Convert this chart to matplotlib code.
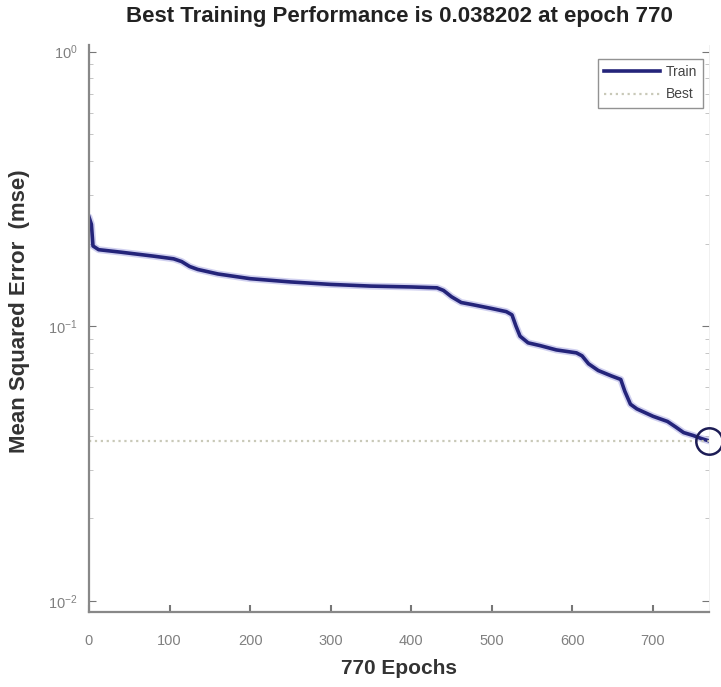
import matplotlib
matplotlib.use('Agg')
import matplotlib.pyplot as plt
from matplotlib.ticker import LogLocator, NullFormatter
import numpy as np

# Training record (epoch, mse)
epochs = [0, 3, 5, 12, 40, 80, 105, 115, 125, 135, 160, 200, 250, 300, 350,
          400, 432, 440, 450, 462, 475, 500, 518, 525, 530, 535, 545, 560,
          580, 605, 612, 620, 632, 648, 660, 665, 672, 680, 700, 718, 728,
          738, 750, 760, 770]
train_mse = [0.250, 0.235, 0.196, 0.190, 0.186, 0.180, 0.176, 0.172, 0.165,
             0.161, 0.155, 0.149, 0.145, 0.142, 0.140, 0.139, 0.138, 0.135,
             0.128, 0.122, 0.120, 0.116, 0.113, 0.110, 0.100, 0.092, 0.087,
             0.085, 0.082, 0.080, 0.078, 0.073, 0.069, 0.066, 0.064, 0.058,
             0.052, 0.050, 0.047, 0.045, 0.043, 0.041, 0.040, 0.039, 0.038202]
best_epoch = 770
best_perf = 0.038202

plt.rcParams['font.family'] = ['Liberation Sans', 'DejaVu Sans']
plt.rcParams['mathtext.fontset'] = 'custom'
plt.rcParams['mathtext.rm'] = 'Liberation Sans'

fig = plt.figure(figsize=(7.21, 6.87), dpi=100)
ax = fig.add_axes([0.1234, 0.109, 0.8605, 0.826])

ax.plot(epochs, train_mse, color='#6666cc', lw=5, alpha=0.3, solid_capstyle='round')
ax.plot(epochs, train_mse, color='#24247a', lw=2.6, label='Train')
ax.axhline(best_perf, color='#c9c9b8', lw=1.6, ls=':', label='Best')
ax.plot([best_epoch], [best_perf], 'o', ms=19, mfc='none', mec='#1c1c55',
        mew=1.8, clip_on=False, zorder=5)

ax.set_yscale('log')
ax.set_xlim(0, 770)
ax.set_ylim(0.0091, 1.06)
ax.set_xticks(np.arange(0, 701, 100))
ax.yaxis.set_major_locator(LogLocator(base=10, numticks=5))
ax.yaxis.set_minor_locator(LogLocator(base=10, subs=np.arange(2, 10), numticks=20))
ax.yaxis.set_minor_formatter(NullFormatter())
ax.tick_params(axis='both', which='both', direction='in', colors='#777777',
               labelcolor='#808080', labelsize=10.5)
ax.tick_params(axis='y', which='both', right=True)
ax.tick_params(axis='x', pad=16, length=5, width=1.5)
ax.tick_params(axis='y', which='major', pad=8, length=5)
ax.tick_params(axis='y', which='minor', length=3, color='#bbbbbb')

for side in ['left', 'bottom']:
    ax.spines[side].set_color('#888888')
    ax.spines[side].set_linewidth(1.6)
ax.spines['top'].set_visible(False)
ax.spines['right'].set_color('#eeeeee')
ax.spines['right'].set_linewidth(0.6)

ax.set_title('Best Training Performance is 0.038202 at epoch 770',
             fontsize=16, fontweight='bold', color='#222222', pad=16)
ax.set_xlabel('770 Epochs', fontsize=15, fontweight='bold', color='#333333', labelpad=8)
ax.set_ylabel('Mean Squared Error  (mse)', fontsize=16, fontweight='bold',
              color='#333333')
ax.yaxis.set_label_coords(-0.095, 0.53)

leg = ax.legend(loc='upper right', bbox_to_anchor=(0.99, 0.975), fontsize=10,
                frameon=True, fancybox=False, handlelength=4.0, handletextpad=0.4,
                borderpad=0.45, labelspacing=0.6, borderaxespad=0.0)
leg.get_frame().set_edgecolor('#777777')
leg.get_frame().set_linewidth(1.0)
for t in leg.get_texts():
    t.set_color('#444444')

fig.savefig('out.png', dpi=100, facecolor='white')
